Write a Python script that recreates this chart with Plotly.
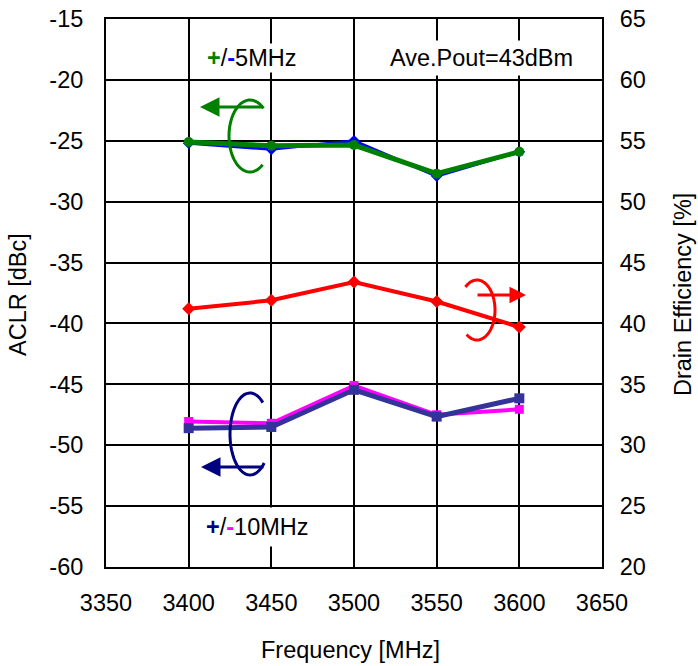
import numpy as np
import plotly.graph_objects as go

freq = [3400, 3450, 3500, 3550, 3600]
aclr5_plus = [-25.1, -25.4, -25.35, -27.7, -25.9]     # green
aclr5_minus = [-25.2, -25.7, -25.0, -27.9, -25.9]     # blue
aclr10_plus = [-48.6, -48.5, -45.45, -47.65, -46.15]  # navy
aclr10_minus = [-48.05, -48.2, -45.1, -47.5, -47.05]  # magenta
efficiency = [41.2, 41.9, 43.4, 41.8, 39.7]           # red, right axis

x_ticks = [3350, 3400, 3450, 3500, 3550, 3600, 3650]
y_left_ticks = [-60, -55, -50, -45, -40, -35, -30, -25, -20, -15]
y_right_ticks = [20, 25, 30, 35, 40, 45, 50, 55, 60, 65]

W, H = 698, 666
L, R, T, B = 106, 602, 19, 567
FONT = "Liberation Sans, Arial, sans-serif"
FS = 23.5

def px(x):
    return (x - L) / (R - L)

def py(y):
    return (B - y) / (B - T)

fig = go.Figure()
fig.add_trace(go.Scatter(x=freq, y=aclr5_minus, mode="lines+markers",
                         line=dict(color="#0000FF", width=3),
                         marker=dict(symbol="diamond", size=9, color="#0000FF"),
                         showlegend=False))
fig.add_trace(go.Scatter(x=freq, y=aclr5_plus, mode="lines+markers",
                         line=dict(color="#008000", width=5),
                         marker=dict(symbol="circle", size=10, color="#008000"),
                         showlegend=False))
fig.add_trace(go.Scatter(x=freq, y=aclr10_minus, mode="lines+markers",
                         line=dict(color="#FF00FF", width=4),
                         marker=dict(symbol="square", size=9, color="#FF00FF"),
                         showlegend=False))
fig.add_trace(go.Scatter(x=freq, y=aclr10_plus, mode="lines+markers",
                         line=dict(color="#333399", width=5),
                         marker=dict(symbol="square", size=10, color="#333399"),
                         showlegend=False))
fig.add_trace(go.Scatter(x=freq, y=efficiency, mode="lines+markers", yaxis="y2",
                         line=dict(color="#FF0000", width=4),
                         marker=dict(symbol="diamond", size=10, color="#FF0000"),
                         showlegend=False))

def arc_path(cx, cy, rx, ry, a0, a1, n=60):
    t = np.radians(np.linspace(a0, a1, n))
    xs = cx + rx * np.cos(t)
    ys = cy + ry * np.sin(t)
    pts = [f"{px(x):.5f},{py(y):.5f}" for x, y in zip(xs, ys)]
    return "M " + " L ".join(pts)

shapes = [
    dict(type="path", xref="paper", yref="paper",
         path=arc_path(250, 136, 21, 36, -50, -307), line=dict(color="#008000", width=3)),
    dict(type="path", xref="paper", yref="paper",
         path=arc_path(250, 434, 20, 41, -50, -315), line=dict(color="#000080", width=3)),
    dict(type="path", xref="paper", yref="paper",
         path=arc_path(477, 310, 18, 30, -130, 125), line=dict(color="#FF0000", width=3)),
]

def arrow(x_tip, y_tip, x_tail, color, size=1.3):
    return dict(x=px(x_tip), y=py(y_tip), xref="paper", yref="paper",
                ax=x_tail - x_tip, ay=0, axref="pixel", ayref="pixel",
                text="", showarrow=True, arrowhead=2, arrowsize=size,
                arrowwidth=3, arrowcolor=color)

txt_font = dict(family=FONT, size=FS, color="black")

def label(x, y, text, **kw):
    d = dict(x=(x - L) / (R - L), y=py(y), xref="paper", yref="paper", showarrow=False,
             xanchor="center", yanchor="middle", text=text, font=txt_font)
    d.update(kw)
    return d

annotations = [
    arrow(200, 107, 264, "#008000"),
    arrow(201, 467, 265, "#000080"),
    arrow(526, 295, 476, "#FF0000", 1.1),
    label(251, 58, "<span style='color:#008000'><b>+</b></span>/<span style='color:#0000FF'><b>-</b></span>5MHz",
          bgcolor="white"),
    label(481, 58, "Ave.Pout=43dBm", bgcolor="white", borderpad=4),
    label(257, 527, "<span style='color:#000080'><b>+</b></span>/<span style='color:#FF00FF'><b>-</b></span>10MHz",
          bgcolor="white", borderpad=6),
    label(350, 650, "Frequency [MHz]"),
    label(18, 295, "ACLR [dBc]", textangle=-90),
    label(683, 295, "Drain Efficiency [%]", textangle=-90),
]

axis_common = dict(showline=True, linecolor="black", linewidth=2,
                   ticks="inside", ticklen=7, tickcolor="black", tickwidth=2,
                   tickfont=dict(family=FONT, size=FS, color="black"),
                   zeroline=False, automargin=False)

fig.update_layout(
    width=W, height=H,
    margin=dict(l=L, r=W - R, t=T, b=H - B),
    paper_bgcolor="white", plot_bgcolor="white",
    xaxis=dict(range=[3350, 3650], tickvals=x_ticks, ticktext=[str(v) for v in x_ticks],
               showgrid=True, gridcolor="black", gridwidth=1.5, mirror=True,
               ticklabelstandoff=14, **axis_common),
    yaxis=dict(range=[-60, -15], tickvals=y_left_ticks, ticktext=[str(v) for v in y_left_ticks],
               showgrid=True, gridcolor="black", gridwidth=1.5,
               mirror=True, ticklabelstandoff=16, **axis_common),
    yaxis2=dict(range=[20, 65], tickvals=y_right_ticks, ticktext=[str(v) for v in y_right_ticks],
                overlaying="y", side="right", showgrid=False,
                ticklabelstandoff=11, **axis_common),
    shapes=shapes,
    annotations=annotations,
    showlegend=False,
)

fig.write_html("out.html")
